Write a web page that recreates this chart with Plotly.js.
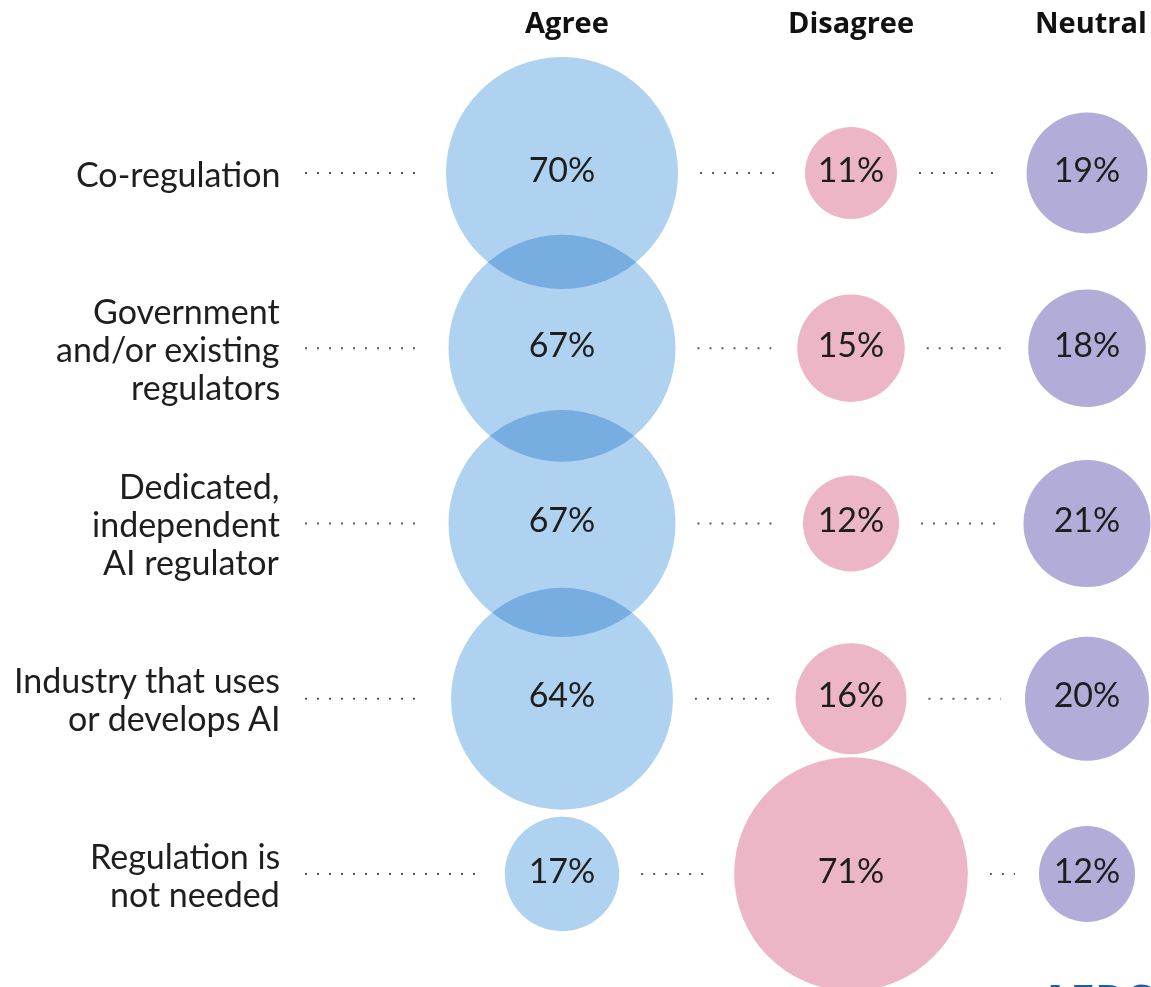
<!DOCTYPE html>
<html>
<head>
<meta charset="utf-8">
<script src="https://cdn.plot.ly/plotly-3.0.1.min.js"></script>
<style>
  html, body { margin: 0; padding: 0; background: #fff; }
  #chart { width: 1151px; height: 987px; }
  #chart .scatterlayer path.point { mix-blend-mode: multiply; }
</style>
</head>
<body>
<div id="chart"></div>
<script>
// ---- data ----
const rows = ["Co-regulation", "Government and/or existing regulators", "Dedicated, independent AI regulator", "Industry that uses or develops AI", "Regulation is not needed"];
const rowLabelLines = [
  ["Co-regulation"],
  ["Government", "and/or existing", "regulators"],
  ["Dedicated,", "independent", "AI regulator"],
  ["Industry that uses", "or develops AI"],
  ["Regulation is", "not needed"]
];
const columns = ["Agree", "Disagree", "Neutral"];
const agree = [70, 67, 67, 64, 17];
const disagree = [11, 15, 12, 16, 71];
const neutral = [19, 18, 21, 20, 12];
const logoText = "AERC";

// ---- layout / style constants ----
const W = 1151, H = 987;
const colX = [562, 851, 1087];           // pixel centres of the columns
const headerX = [567, 851, 1091];
const colColors = ["#aed2f0", "#ecb6c6", "#b2acd8"];
const rowTop = 173, rowStep = 175.25;    // pixel centre of first row & spacing
const pxPerSqrt = 27.73;                 // bubble diameter = pxPerSqrt * sqrt(value)
const FONT = "Lato, 'Noto Sans', sans-serif";
const HFONT = "'Open Sans', 'Noto Sans', sans-serif";
const labelRight = 282, dotStart = 305, lineGap = 38;

const series = [agree, disagree, neutral];
const diam = v => pxPerSqrt * Math.sqrt(v);

const traces = [];

// dotted leader lines (drawn first, behind bubbles)
rows.forEach((r, i) => {
  const rad = series.map(s => diam(s[i]) / 2);
  const xs = [
    dotStart, colX[0] - rad[0] - 27, null,
    colX[0] + rad[0] + 22, colX[1] - rad[1] - 26, null,
    colX[1] + rad[1] + 22, colX[2] - rad[2] - 24
  ];
  const ys = xs.map(x => x === null ? null : r);
  traces.push({
    type: "scatter", mode: "lines", x: xs, y: ys,
    line: { color: "#5a5a5a", width: 2, dash: "2px,10px" },
    hoverinfo: "skip", showlegend: false, connectgaps: false
  });
});

// bubbles
series.forEach((vals, c) => {
  traces.push({
    type: "scatter", mode: "markers+text",
    name: columns[c],
    x: vals.map(() => colX[c]),
    y: rows,
    text: vals.map(v => v + "%"),
    textposition: "middle center",
    textfont: { family: FONT, size: 34, color: "#1e1e1e" },
    marker: {
      size: vals.map(diam), sizemode: "diameter", sizeref: 1,
      color: colColors[c], opacity: 1, line: { width: 0 }
    },
    cliponaxis: false,
    hoverinfo: "skip", showlegend: false
  });
});

const annotations = [];
rows.forEach((r, i) => {
  const lines = rowLabelLines[i];
  const n = lines.length;
  lines.forEach((t, j) => {
    const off = (j - (n - 1) / 2) * lineGap;   // pixels
    annotations.push({
      xref: "x", yref: "y", x: labelRight, y: i + off / rowStep,
      xanchor: "right", yanchor: "middle", align: "right",
      text: t, showarrow: false,
      font: { family: FONT, size: 34, color: "#1e1e1e" }
    });
  });
});
columns.forEach((c, k) => {
  annotations.push({
    xref: "x", yref: "paper", x: headerX[k], y: 1 - 22 / H,
    xanchor: "center", yanchor: "middle",
    text: "<b>" + c + "</b>", showarrow: false,
    font: { family: HFONT, size: 29, color: "#111" }
  });
});
// partially visible logo at bottom right
annotations.push({
  xref: "paper", yref: "paper", x: 1038 / W, y: 1 - 968 / H,
  xanchor: "left", yanchor: "top",
  text: "<b>" + logoText + "</b>", showarrow: false,
  font: { family: HFONT, size: 44, color: "#1f5ba8" }
});

const yMin = -rowTop / rowStep, yMax = (H - rowTop) / rowStep;

const layout = {
  width: W, height: H,
  margin: { l: 0, r: 0, t: 0, b: 0, pad: 0 },
  paper_bgcolor: "#fff", plot_bgcolor: "#fff",
  xaxis: { range: [0, W], visible: false, fixedrange: true },
  yaxis: { type: "category", categoryorder: "array", categoryarray: rows,
           range: [yMax, yMin], visible: false, fixedrange: true },
  annotations: annotations,
  showlegend: false
};

Plotly.newPlot("chart", traces, layout, { displayModeBar: false, staticPlot: true });
</script>
</body>
</html>
